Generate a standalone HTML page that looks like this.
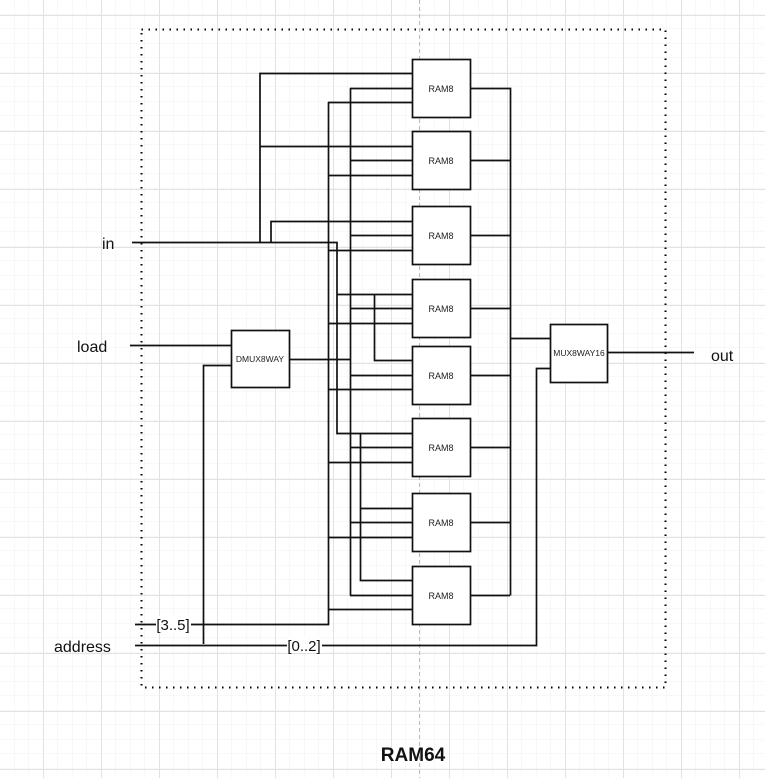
<!DOCTYPE html>
<html><head><meta charset="utf-8"><style>
html,body{margin:0;padding:0;background:#fff}
svg{display:block}
text{font-family:"Liberation Sans",sans-serif}
</style></head><body>
<svg width="765" height="778" viewBox="0 0 765 778" xmlns="http://www.w3.org/2000/svg">
<defs>
<pattern id="minor" x="0" y="0" width="14.5" height="14.5" patternUnits="userSpaceOnUse">
<path d="M14.5 0V14.5M0 14.5H14.5" stroke="#f0f0f0" stroke-width="1" fill="none"/>
</pattern>
<pattern id="major" x="43" y="15" width="58" height="58" patternUnits="userSpaceOnUse">
<path d="M0.5 0V58M0 0.5H58" stroke="#e2e2e2" stroke-width="1" fill="none"/>
</pattern>
</defs>
<rect width="765" height="778" fill="#fff"/>
<rect width="765" height="778" fill="url(#minor)"/>
<rect width="765" height="778" fill="url(#major)"/>
<line x1="419.5" y1="0" x2="419.5" y2="778" stroke="#bbb" stroke-dasharray="4,3"/>
<rect x="141.5" y="29.5" width="524" height="658" fill="none" stroke="#000" stroke-width="2" stroke-dasharray="1.5,5.5"/>

<g stroke="#111" stroke-width="1.7" fill="none">
<path d="M132 242.5H337V433.5H412"/>
<path d="M260 242V73.5H412M260 146.5H412"/>
<path d="M271 242V221.5H412"/>
<path d="M337 294.5H412M374.5 294V360.5H412"/>
<path d="M360.5 433V580.5H412M360 508.5H412"/>
<path d="M350.5 88V595.5"/>
<path d="M350 88.5H412M350 160.5H412M350 235.5H412M350 308.5H412M350 375.5H412M350 447.5H412M350 522.5H412M350 595.5H412"/>
<path d="M135 624.5H328.5V102"/>
<path d="M328 102.5H412M328 175.5H412M328 250.5H412M328 323.5H412M328 389.5H412M328 462.5H412M328 537.5H412M328 609.5H412"/>
<path d="M130 345.5H231M289 359.5H350M203.5 644V365.5H231"/>
<path d="M135 645.5H536.5V368.5H550"/>
<path d="M470 88.5H510.5V595.5M470 160.5H510M470 235.5H510M470 308.5H510M470 375.5H510M470 447.5H510M470 522.5H510M470 595.5H510M510 338.5H550"/>
<path d="M608 352.5H694"/>
</g>
<g stroke="#111" stroke-width="1.7" fill="#fff">
<rect x="412.5" y="59.5" width="58" height="58"/>
<rect x="412.5" y="131.5" width="58" height="58"/>
<rect x="412.5" y="206.5" width="58" height="58"/>
<rect x="412.5" y="279.5" width="58" height="58"/>
<rect x="412.5" y="346.5" width="58" height="58"/>
<rect x="412.5" y="418.5" width="58" height="58"/>
<rect x="412.5" y="493.5" width="58" height="58"/>
<rect x="412.5" y="566.5" width="58" height="58"/>
<rect x="231.5" y="330.5" width="58" height="57"/>
<rect x="550.5" y="324.5" width="57" height="58"/>
</g>
<g font-size="9" fill="#222" text-anchor="middle">
<text x="441" y="92">RAM8</text>
<text x="441" y="164">RAM8</text>
<text x="441" y="239">RAM8</text>
<text x="441" y="312">RAM8</text>
<text x="441" y="379">RAM8</text>
<text x="441" y="451">RAM8</text>
<text x="441" y="526">RAM8</text>
<text x="441" y="599">RAM8</text>
<text x="260" y="362" font-size="8.5">DMUX8WAY</text>
<text x="579" y="356" font-size="8.5">MUX8WAY16</text>
</g>
<rect x="156" y="616" width="35" height="16" fill="#fff"/>
<rect x="287" y="637" width="35" height="16" fill="#fff"/>
<g font-size="15" fill="#111" text-anchor="middle">
<text x="173" y="630">[3..5]</text>
<text x="304" y="651">[0..2]</text>
</g>
<g font-size="16" fill="#111">
<text x="102" y="249">in</text>
<text x="77" y="352">load</text>
<text x="54" y="652">address</text>
<text x="711" y="361">out</text>
</g>
<text x="413" y="761" font-size="19" font-weight="bold" text-anchor="middle" fill="#111">RAM64</text>
</svg>
</body></html>
